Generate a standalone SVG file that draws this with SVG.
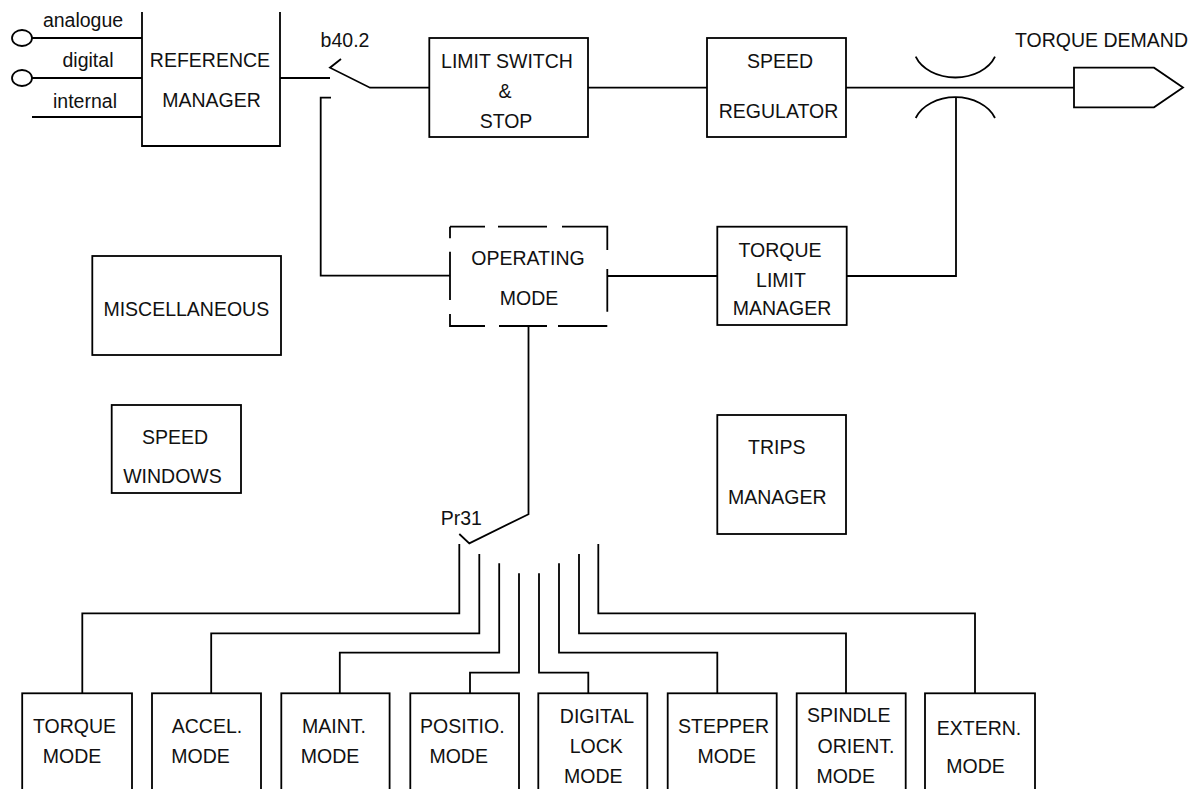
<svg xmlns="http://www.w3.org/2000/svg" width="1198" height="789" viewBox="0 0 1198 789">
<style>
.b{fill:none;stroke:#000;stroke-width:1.8}
.c{fill:none;stroke:#000;stroke-width:1.8}
text{font-family:"Liberation Sans",Arial,sans-serif;font-size:19.5px;fill:#111}
.m{text-anchor:middle}
</style>
<rect x="0" y="0" width="1198" height="789" fill="#fff"/>
<g id="inputs">
<ellipse class="b" cx="22" cy="38" rx="10" ry="8"/>
<ellipse class="b" cx="22" cy="78" rx="10" ry="8"/>
<text class="m" x="83" y="27">analogue</text>
<text class="m" x="88" y="67">digital</text>
<text class="m" x="85" y="108">internal</text>
</g>
<g id="reference-manager">
<path class="b" d="M142,12 V146 H280 V12"/>
<text class="m" x="210" y="67">REFERENCE</text>
<text class="m" x="211.5" y="107">MANAGER</text>
</g>
<g id="switch-b40">
<text class="m" x="345" y="47">b40.2</text>
</g>
<g id="limit-switch">
<rect class="b" x="429.3" y="38" width="158.7" height="99"/>
<text class="m" x="507" y="68">LIMIT SWITCH</text>
<text class="m" x="505" y="98">&amp;</text>
<text class="m" x="506" y="128">STOP</text>
</g>
<g id="speed-regulator">
<rect class="b" x="707" y="38" width="139" height="99"/>
<text class="m" x="780" y="68">SPEED</text>
<text class="m" x="778.5" y="118">REGULATOR</text>
</g>
<g id="torque-demand">
<path class="b" d="M1074,67.7 H1154 L1183,87.5 L1154,107.3 H1074 Z"/>
<text x="1015" y="47">TORQUE DEMAND</text>
</g>
<g id="operating-mode">
<path class="b" d="M450,226.7 H485 M498,226.7 H547 M562,226.7 H607.3 V250 M607.3,269 V311.7 M450,226.7 V238.3 M450,251.7 V300 M450,314 V326 H485 M499,326 H547 M558,326 H607.3"/>
<text class="m" x="528" y="265">OPERATING</text>
<text class="m" x="529" y="305">MODE</text>
</g>
<g id="torque-limit-manager">
<rect class="b" x="717.3" y="226.7" width="129.4" height="98.3"/>
<text class="m" x="780" y="257">TORQUE</text>
<text class="m" x="781" y="287">LIMIT</text>
<text class="m" x="782" y="315">MANAGER</text>
</g>
<g id="miscellaneous">
<rect class="b" x="92.3" y="256" width="188.7" height="99"/>
<text class="m" x="186.3" y="316">MISCELLANEOUS</text>
</g>
<g id="speed-windows">
<rect class="b" x="111.7" y="405" width="129.3" height="88"/>
<text class="m" x="175" y="444">SPEED</text>
<text class="m" x="172.5" y="483">WINDOWS</text>
</g>
<g id="trips-manager">
<rect class="b" x="717.3" y="415" width="128.7" height="119"/>
<text class="m" x="776.7" y="454">TRIPS</text>
<text class="m" x="777.2" y="504">MANAGER</text>
</g>
<g id="switch-pr31">
<text x="440.7" y="525">Pr31</text>
</g>
<g id="torque-mode">
<rect class="b" x="22.2" y="693.3" width="109.8" height="120"/>
<text class="m" x="74.6" y="732.7">TORQUE</text>
<text class="m" x="72" y="762.7">MODE</text>
</g>
<g id="accel-mode">
<rect class="b" x="152" y="693.3" width="109" height="120"/>
<text class="m" x="207" y="732.7">ACCEL.</text>
<text class="m" x="200.5" y="762.7">MODE</text>
</g>
<g id="maint-mode">
<rect class="b" x="281.3" y="693.3" width="108.3" height="120"/>
<text class="m" x="334" y="732.7">MAINT.</text>
<text class="m" x="330" y="762.7">MODE</text>
</g>
<g id="positio-mode">
<rect class="b" x="410.3" y="693.3" width="108.7" height="120"/>
<text class="m" x="462.3" y="732.7">POSITIO.</text>
<text class="m" x="458.7" y="762.7">MODE</text>
</g>
<g id="digital-lock-mode">
<rect class="b" x="538.3" y="693.3" width="109" height="120"/>
<text class="m" x="597" y="722.7">DIGITAL</text>
<text class="m" x="596.3" y="753.3">LOCK</text>
<text class="m" x="593.3" y="782.7">MODE</text>
</g>
<g id="stepper-mode">
<rect class="b" x="667.7" y="693.3" width="109" height="120"/>
<text class="m" x="723.5" y="733.3">STEPPER</text>
<text class="m" x="726.7" y="763.3">MODE</text>
</g>
<g id="spindle-orient-mode">
<rect class="b" x="796.7" y="693.3" width="109" height="120"/>
<text class="m" x="848.7" y="721.7">SPINDLE</text>
<text class="m" x="856" y="752.7">ORIENT.</text>
<text class="m" x="845.7" y="783.3">MODE</text>
</g>
<g id="extern-mode">
<rect class="b" x="925" y="693.3" width="110" height="120"/>
<text class="m" x="979" y="735">EXTERN.</text>
<text class="m" x="975.5" y="773.3">MODE</text>
</g>
<g id="connectors">
<path class="c" d="M32,38 H142 M32,78 H142 M32,117 H142"/>
<path class="c" d="M280,78 H330"/>
<path class="c" d="M341,59 L330,67.7 L370,87.7 H429.3"/>
<path class="c" d="M331,97.7 H320.7 V275.7 H450"/>
<path class="c" d="M588,87.7 H707"/>
<path class="c" d="M846,87.7 H1074"/>
<path class="c" d="M915.7,56.7 A42,31 0 0 0 995,56.7"/>
<path class="c" d="M915.7,118 A42,31 0 0 1 995,118"/>
<path class="c" d="M956,97.7 V276 H846.7"/>
<path class="c" d="M607.3,276 H717.3"/>
<path class="c" d="M528.5,326 V514.3 L469.3,543.3 L459.3,534"/>
<path class="c" d="M459.3,544 V613.3 H82.3 V693.3"/>
<path class="c" d="M479.3,554 V633.3 H211.2 V693.3"/>
<path class="c" d="M499.2,563.3 V652.7 H339.8 V693.3"/>
<path class="c" d="M519,573.3 V672.7 H470 V693.3"/>
<path class="c" d="M539,573.3 V672.7 H588.3 V693.3"/>
<path class="c" d="M559,563.3 V652.7 H717.3 V693.3"/>
<path class="c" d="M579,554 V633.3 H846 V693.3"/>
<path class="c" d="M598.3,544 V613.3 H975 V693.3"/>
</g>
</svg>
